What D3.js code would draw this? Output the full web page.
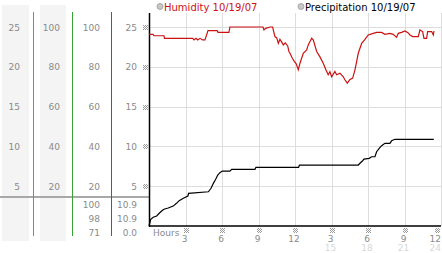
<!DOCTYPE html>
<html>
<head>
<meta charset="UTF-8" />
<script src="https://d3js.org/d3.v7.min.js"></script>
<style>
  body { margin: 0; background: #fff; }
  text { font-family: "DejaVu Sans", sans-serif; }
</style>
</head>
<body>
<div id="chart"></div>
<script>
// data
var humHours = [0,0.33,0.41,1.23,1.27,3.6,3.7,3.86,4.0,4.2,4.4,4.6,4.85,5.6,5.67,6.57,6.65,9.37,9.45,9.6,9.94,10.16,10.35,10.5,10.63,10.76,10.9,11.04,11.2,11.4,11.5,11.59,11.78,11.94,12.1,12.27,12.41,12.68,12.96,13.09,13.37,13.5,13.78,14.05,14.32,14.54,14.73,14.87,15.01,15.28,15.42,15.69,15.97,16.1,16.3,16.5,16.74,16.93,17.2,17.48,17.75,18.02,18.43,18.71,19.12,19.39,19.8,20.07,20.35,20.49,20.76,21.04,21.31,21.45,21.67,22.13,22.27,22.49,22.6,22.82,22.9,23.23,23.37,23.42];
var humValues = [96.3,96.3,95.6,95.6,94.3,94.3,93.5,94.3,93.5,94.3,93.5,93.5,98.2,98.2,97.3,97.3,100,100,98.5,99.3,100,100,95.2,94.5,91.8,93.8,92.5,91,92,90.5,87.7,86.8,84.3,82.7,81.5,78.5,81.8,86.8,88.5,91,94.3,93.5,87.7,85,81.8,78.5,76,77.5,75,77.7,76,76.8,75,73.5,71.8,73.5,74.3,78.5,86.8,91.8,93.8,96,96.8,97.3,97.3,96.3,96.8,96.3,94.8,96.8,97.3,98,97,96,95.2,95.2,98.5,97.7,94.3,94.3,97.7,97.7,96,98];
var preHours = [0,0.14,0.35,0.63,0.84,1.04,1.23,1.58,1.99,2.26,2.48,2.82,3.2,3.25,4.88,5.1,5.29,5.48,5.65,5.83,6.02,6.65,6.79,8.71,8.79,12.3,12.36,17.2,17.34,17.56,17.67,18.1,18.3,18.57,18.71,18.92,19.12,19.39,19.8,19.94,20.21,23.41];
var preValues = [0,0.85,1.1,1.26,1.6,1.88,2.1,2.26,2.5,2.85,3.18,3.48,3.77,4.1,4.3,4.74,5.36,5.87,6.4,6.7,6.9,6.9,7.12,7.12,7.37,7.37,7.66,7.66,7.88,8.2,8.4,8.5,8.7,8.7,9.33,9.76,10.09,10.39,10.39,10.7,10.89,10.89];

var preTicks = [5,10,15,20,25];
var humTicks = [20,40,60,80,100];
var hourTicks = [3,6,9,12,15,18,21,24];
var hourLabels = ["3","6","9","12","3","6","9","12"];
var hourLabels2 = ["","","","","15","18","21","24"];
var humStats = ["100","98","71"];
var preStats = ["10.9","10.9","0.0"];
var legendNames = ["Humidity 10/19/07","Precipitation 10/19/07"];

var width = 442, height = 253;
var svg = d3.select("#chart").append("svg")
  .attr("width", width).attr("height", height);

// little checkered tick mark
var pat = svg.append("defs").append("pattern").attr("id","chk")
  .attr("patternUnits","userSpaceOnUse").attr("width",2).attr("height",2);
pat.append("rect").attr("x",0).attr("y",0).attr("width",1).attr("height",1).attr("fill","#999");
pat.append("rect").attr("x",1).attr("y",1).attr("width",1).attr("height",1).attr("fill","#999");

var x = d3.scaleLinear().domain([0,24]).range([149,441]);
var yP = d3.scaleLinear().domain([0,25]).range([226,27]);
var yH = d3.scaleLinear().domain([0,100]).range([226,27]);

// left side panels
svg.append("rect").attr("x",2).attr("y",5).attr("width",27).attr("height",236).attr("fill","#f4f4f4");
svg.append("rect").attr("x",40).attr("y",5).attr("width",26).attr("height",236).attr("fill","#f4f4f4");

svg.append("line").attr("x1",0).attr("x2",150).attr("y1",197).attr("y2",197)
  .attr("stroke","#a8a8a8").attr("stroke-width",2);

var vlines = [{x:33,c:"#3aa0c8"},{x:72,c:"#3aa03a"},{x:111,c:"#c03030"}];
svg.selectAll(".vl").data(vlines).join("line")
  .attr("x1",d=>d.x+0.5).attr("x2",d=>d.x+0.5).attr("y1",12).attr("y2",236)
  .attr("stroke",d=>d.c).attr("stroke-width",1);

var cols = [{x:20,t:preTicks},{x:60,t:humTicks},{x:100,t:humTicks},{x:137,t:preTicks}];
cols.forEach(function(c){
  svg.append("g").selectAll("text").data(c.t).join("text")
    .attr("x",c.x).attr("y",(d,i)=>yP(preTicks[i])+3.5)
    .attr("text-anchor","end").attr("font-size",9).attr("fill","#8a8a8a")
    .text(d=>d);
});
svg.append("g").selectAll("text").data(humStats).join("text")
  .attr("x",100).attr("y",(d,i)=>208+i*14).attr("text-anchor","end")
  .attr("font-size",9).attr("fill","#8a8a8a").text(d=>d);
svg.append("g").selectAll("text").data(preStats).join("text")
  .attr("x",137).attr("y",(d,i)=>208+i*14).attr("text-anchor","end")
  .attr("font-size",9).attr("fill","#8a8a8a").text(d=>d);

// grid
svg.append("g").selectAll("line").data(preTicks).join("line")
  .attr("x1",149).attr("x2",441).attr("y1",d=>Math.round(yP(d))+0.5).attr("y2",d=>Math.round(yP(d))+0.5)
  .attr("stroke","#dddddd");
svg.append("g").selectAll("line").data(hourTicks).join("line")
  .attr("x1",d=>Math.round(x(d))+0.5).attr("x2",d=>Math.round(x(d))+0.5).attr("y1",13).attr("y2",226)
  .attr("stroke","#dddddd");

// y tick marks
svg.append("g").selectAll("rect").data(preTicks).join("rect")
  .attr("x",143).attr("y",d=>Math.round(yP(d))-2).attr("width",5).attr("height",5)
  .attr("fill","url(#chk)");

// axes
svg.append("line").attr("x1",149.5).attr("x2",149.5).attr("y1",13).attr("y2",227)
  .attr("stroke","#000").attr("stroke-width",1.5);
svg.append("line").attr("x1",149).attr("x2",441).attr("y1",226).attr("y2",226)
  .attr("stroke","#000").attr("stroke-width",1.5);

// x labels
var last = hourTicks[hourTicks.length-1];
var lx = d => d === last ? 441 : x(d) - 1;
var la = d => d === last ? "end" : "middle";
svg.append("text").attr("x",153).attr("y",236).attr("font-size",9).attr("fill","#8a8a8a").text("Hours");
svg.append("g").selectAll("rect").data(hourTicks).join("rect")
  .attr("x",d=>(d === last ? 435 : Math.round(x(d)) - 2)).attr("y",228).attr("width",5).attr("height",5)
  .attr("fill","url(#chk)");
svg.append("g").selectAll("text").data(hourTicks).join("text")
  .attr("x",lx).attr("y",242).attr("text-anchor",la)
  .attr("font-size",9).attr("fill","#8a8a8a").text((d,i)=>hourLabels[i]);
svg.append("g").selectAll("text").data(hourTicks).join("text")
  .attr("x",lx).attr("y",251).attr("text-anchor",la)
  .attr("font-size",9).attr("fill","#d8d8d8").text((d,i)=>hourLabels2[i]);

// lines
var hum = humHours.map((h,i)=>[h,humValues[i]]);
var pre = preHours.map((h,i)=>[h,preValues[i]]);
svg.append("path").datum(hum)
  .attr("d", d3.line().x(d=>x(d[0])).y(d=>yH(d[1])))
  .attr("fill","none").attr("stroke","#cc1111").attr("stroke-width",1.2);
svg.append("path").datum(pre)
  .attr("d", d3.line().x(d=>x(d[0])).y(d=>yP(d[1])))
  .attr("fill","none").attr("stroke","#000").attr("stroke-width",1.2);

// legend
var leg = [{x:160,c:"#cc1111"},{x:301,c:"#000"}];
svg.append("g").selectAll("circle").data(leg).join("circle")
  .attr("cx",d=>d.x).attr("cy",6.5).attr("r",3)
  .attr("fill","#c8c8c8").attr("stroke","#999").attr("stroke-width",0.8);
svg.append("g").selectAll("text").data(leg).join("text")
  .attr("x",d=>d.x+4).attr("y",10.5).attr("font-size",10).attr("fill",d=>d.c)
  .text((d,i)=>legendNames[i]);
</script>
</body>
</html>
